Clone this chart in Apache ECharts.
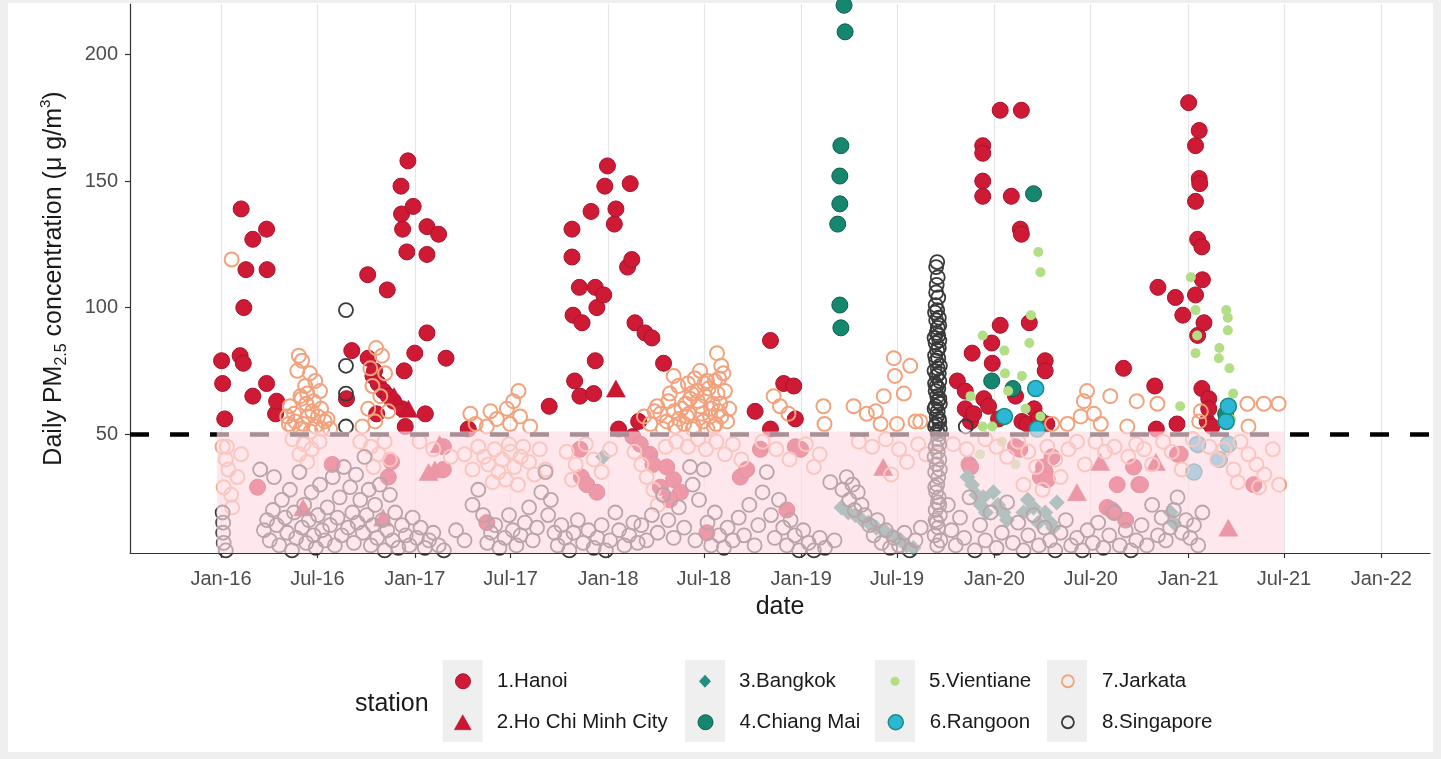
<!DOCTYPE html>
<html>
<head>
<meta charset="utf-8">
<script src="https://cdn.jsdelivr.net/npm/echarts@6/dist/echarts.min.js"></script>
<style>
html, body { margin: 0; padding: 0; background: #efefef; }
#chart { width: 1441px; height: 759px; }
</style>
</head>
<body>
<div id="chart"></div>
<script>
// Daily PM2.5 by monitoring station, [date, µg/m³]
const hanoi = [
  ['2016-01-02',79],['2016-01-04',70],['2016-01-08',56],['2016-02-06',81],['2016-02-08',139],['2016-02-12',78],
  ['2016-02-13',100],['2016-02-17',115],['2016-03-01',127],['2016-03-01',65],['2016-03-27',131],['2016-03-27',70],
  ['2016-03-28',115],['2016-04-13',58],['2016-04-15',63],['2016-03-10',29],['2016-07-29',38],
  ['2016-08-25',64],['2016-09-04',83],['2016-10-04',113],['2016-10-05',80],['2016-10-14',73],['2016-10-17',75],
  ['2016-10-21',58],['2016-10-24',70],['2016-11-03',67],['2016-11-10',107],['2016-11-12',65],['2016-11-22',63],
  ['2016-12-06',148],['2016-12-07',137],['2016-12-08',60],['2016-12-09',131],['2016-12-12',75],['2016-12-14',53],
  ['2016-12-17',122],['2016-12-19',158],['2016-12-29',140],['2017-01-01',82],['2017-01-21',58],['2017-01-24',132],
  ['2017-01-24',121],['2017-01-24',90],['2017-02-15',129],['2017-03-01',80],['2017-04-12',52],
  ['2016-11-12',33],['2016-11-18',39],['2017-02-24',45],['2017-02-24',36],['2017-05-17',15],
  ['2017-09-12',61],['2017-10-25',131],['2017-10-25',120],['2017-10-27',97],['2017-10-30',71],['2017-11-08',108],
  ['2017-11-09',65],['2017-11-13',94],['2017-11-30',138],['2017-12-05',66],['2017-12-08',108],['2017-12-08',79],
  ['2017-12-11',100],['2017-12-24',105],['2017-12-26',148],['2017-12-31',156],['2018-01-13',133],['2018-01-16',139],
  ['2018-01-21',52],['2018-02-07',116],['2018-02-12',149],['2018-02-15',119],['2018-02-21',94],['2018-02-28',55],
  ['2018-03-12',90],['2018-03-25',88],['2018-04-16',78],
  ['2017-11-09',44],['2017-11-12',33],['2017-11-22',30],['2017-12-11',27],['2018-02-17',49],['2018-03-03',46],
  ['2018-03-21',42],['2018-03-27',38],['2018-04-22',37],['2018-05-05',32],['2018-04-10',29],['2018-05-18',27],
  ['2018-04-28',24],['2018-07-07',11],['2018-09-08',33],['2018-09-20',36],['2018-10-16',44],['2018-12-05',20],
  ['2018-12-21',45],['2018-12-31',44],
  ['2018-10-06',59],['2018-11-04',87],['2018-11-04',52],['2018-11-29',70],['2018-12-18',69],['2018-12-21',56],
  ['2019-10-23',71],['2019-11-07',67],['2019-11-07',60],['2019-11-17',55],['2019-11-20',82],['2019-11-23',58],
  ['2019-12-10',164],['2019-12-10',161],['2019-12-10',150],['2019-12-10',144],['2019-12-12',64],['2019-12-21',61],
  ['2019-12-27',86],['2019-12-28',78],['2020-01-09',56],['2020-01-12',178],['2020-01-12',93],['2020-02-02',144],
  ['2020-02-10',65],['2020-02-19',131],['2020-02-21',178],['2020-02-21',129],['2020-02-22',55],['2020-03-03',54],
  ['2020-03-07',94],['2020-03-16',60],['2020-03-25',56],['2020-04-06',79],['2020-04-06',75],['2020-04-09',54],
  ['2019-11-14',38],['2019-11-17',37],['2020-02-10',45],['2020-02-18',44],['2020-03-28',33],['2020-04-03',37],
  ['2020-04-06',35],['2020-04-10',32],['2020-04-19',41],['2020-08-01',21],['2020-08-10',20],['2020-08-14',19],
  ['2020-08-20',30],['2020-09-05',16],['2020-09-20',37],['2020-09-30',30],['2020-10-03',30],['2020-12-12',42],
  ['2020-12-17',42],['2021-05-05',30],
  ['2020-09-01',76],['2020-10-30',69],['2020-11-02',52],['2020-11-05',108],['2020-12-08',104],['2020-12-11',54],
  ['2020-12-22',97],['2021-01-02',181],['2021-01-15',164],['2021-01-15',142],['2021-01-15',105],['2021-01-19',127],
  ['2021-01-19',89],['2021-01-22',170],['2021-01-22',151],['2021-01-23',149],['2021-01-27',124],['2021-01-27',68],
  ['2021-01-28',111],['2021-01-31',94],['2021-02-06',55],['2021-02-09',64],['2021-02-09',60],['2021-02-15',53]
];

const hoChiMinh = [
  ['2016-06-04',21],['2016-11-02',17],['2016-11-23',65],['2016-12-20',60],['2017-01-27',35],['2017-02-08',36],
  ['2017-02-17',46],['2018-01-16',68],['2019-06-05',37],['2020-06-05',27],['2020-07-19',39],['2020-11-01',39],
  ['2021-03-18',13]
];

const bangkok = [
  ['2017-12-23',41],['2019-03-18',21],['2019-03-31',19],['2019-04-13',18],['2019-04-26',16],['2019-05-08',15],
  ['2019-05-23',13],['2019-06-07',12],['2019-06-22',10],['2019-07-08',8],['2019-07-19',6],['2019-08-01',5],
  ['2019-11-11',33],['2019-11-20',30],['2019-11-28',26],['2019-12-06',22],['2019-12-11',25],['2019-12-16',19],
  ['2019-12-30',27],['2020-01-08',22],['2020-01-18',19],['2020-01-25',16],['2020-02-25',19],['2020-03-04',24],
  ['2020-03-15',21],['2020-03-24',15],['2020-04-06',19],['2020-04-16',15],['2020-04-21',13],['2020-04-28',23],
  ['2020-11-29',19],['2020-12-05',15]
];

const chiangMai = [
  ['2019-03-11',133],['2019-03-15',152],['2019-03-15',141],['2019-03-15',101],['2019-03-17',164],['2019-03-17',92],
  ['2019-03-23',219.5],['2019-03-25',209],['2019-12-27',71],['2020-02-05',68],['2020-03-15',145],['2021-03-13',58]
];

const vientiane = [
  ['2019-11-17',65],['2019-12-10',89],['2019-12-10',53],['2019-12-28',53],['2020-01-20',83],['2020-01-21',74],
  ['2020-01-27',67],['2020-02-22',73],['2020-02-29',60],['2020-03-07',86],['2020-03-10',97],['2020-03-24',122],
  ['2020-03-28',114],['2020-03-28',57],['2020-12-17',61],['2021-01-06',112],['2021-01-15',99],['2021-01-15',82],
  ['2021-01-18',89],['2021-02-28',80],['2021-03-01',84],['2021-03-14',99],['2021-03-17',96],['2021-03-17',91],
  ['2021-03-20',76],['2021-03-23',56],['2021-03-27',66],
  ['2019-12-05',42],['2020-01-15',47],['2020-02-10',38],['2021-01-20',44]
];

const rangoon = [
  ['2020-01-20',57],['2020-03-19',68],['2020-03-22',52],['2021-01-12',35],['2021-01-19',46],['2021-03-01',40],
  ['2021-03-14',55],['2021-03-18',61],['2021-03-18',46]
];

const jarkata = [
  ['2016-01-21',119],
  ['2016-05-27',81],['2016-06-02',79],['2016-05-24',75],['2016-06-17',74],['2016-06-08',69],['2016-06-27',71],
  ['2016-05-30',65],['2016-07-06',67],['2016-05-10',61],['2016-06-10',62],['2016-06-21',59],['2016-07-02',57],
  ['2016-07-15',55],['2016-05-20',55],['2016-06-04',54],['2016-06-27',53],['2016-07-10',52],['2016-07-25',52],
  ['2016-05-05',57],['2016-05-30',52],['2016-06-14',57],['2016-05-14',53],
  ['2016-06-01',64],['2016-06-12',66],['2016-06-24',63],['2016-07-08',60],['2016-05-18',58],['2016-06-18',51],
  ['2016-07-20',56],['2016-05-08',54],
  ['2016-10-20',84],['2016-10-31',81],['2016-10-09',76],['2016-11-06',74],['2016-10-13',69],['2016-10-28',65],
  ['2016-10-05',60],['2016-11-12',59],['2016-10-18',55],['2016-09-24',53],
  ['2017-04-16',58],['2017-05-24',59],['2017-06-24',60],['2017-07-16',67],['2017-07-06',63],['2017-06-05',56],
  ['2017-04-26',54],['2017-07-19',57],['2017-08-07',53],['2017-05-17',53],['2017-06-30',54],
  ['2018-05-05',73],['2018-05-14',69],['2018-04-28',66],['2018-04-04',61],['2018-05-06',59],['2018-06-24',75],
  ['2018-07-07',71],['2018-08-07',74],['2018-07-26',82],['2018-06-18',67],['2018-07-27',66],['2018-08-01',62],
  ['2018-06-25',61],['2018-07-13',57],['2018-05-30',57],['2018-04-22',55],['2018-03-22',54],['2018-08-14',55],
  ['2018-06-12',53],['2018-05-08',53],['2018-07-20',53],['2018-03-10',57],['2018-04-10',58],['2018-05-28',62],
  ['2018-06-05',64],['2018-06-28',58],['2018-07-02',70],['2018-07-18',62],['2018-05-20',60],
  ['2018-06-01',70],['2018-06-08',66],['2018-06-14',72],['2018-06-20',63],['2018-07-04',65],['2018-07-10',68],
  ['2018-07-15',60],['2018-07-22',71],['2018-07-29',59],['2018-08-03',57],['2018-08-10',67],['2018-06-30',55],
  ['2018-07-08',52],['2018-05-25',54],['2018-04-15',52],['2018-03-30',59],['2018-04-25',63],['2018-06-10',52],
  ['2018-07-24',54],['2018-08-18',60],['2018-08-03',77],['2018-07-30',72],['2018-05-15',56],['2018-06-03',58],
  ['2018-11-10',65],['2018-11-22',61],['2018-12-08',58],['2019-02-12',61],['2019-02-14',54],
  ['2019-04-10',61],['2019-05-05',58],['2019-05-31',54],['2019-06-06',65],['2019-06-25',80],['2019-07-26',77],
  ['2019-07-14',66],['2019-06-27',73],['2019-05-22',59],['2019-07-01',54],['2019-08-05',55],['2019-08-14',55],
  ['2020-04-19',54],['2020-06-24',67],['2020-06-18',63],['2020-07-07',58],['2020-08-07',65],['2020-09-26',63],
  ['2020-11-04',62],['2020-06-12',57],['2020-07-20',54],['2020-09-08',53],['2020-05-18',54],['2021-04-23',62],
  ['2021-05-24',62],['2021-04-25',53],['2021-01-25',59],['2021-01-22',55],['2021-06-21',62],
  ['2016-01-04',45],['2016-01-12',45],['2016-01-10',40],['2016-02-08',42],['2016-01-15',36],['2016-01-06',29],
  ['2016-01-20',26],['2016-01-22',21],['2016-02-01',33],
  ['2016-05-15',48],['2016-06-05',46],['2016-06-20',44],['2016-07-05',47],['2016-05-28',42],['2016-06-12',39],
  ['2016-09-20',47],['2016-10-10',45],['2016-10-25',42],['2016-11-05',47],['2016-11-15',40],['2016-10-15',37],
  ['2017-01-10',47],['2017-02-05',44],['2017-03-10',41],
  ['2017-05-01',45],['2017-05-12',41],['2017-05-20',38],['2017-06-01',44],['2017-06-08',35],['2017-06-15',40],
  ['2017-06-22',32],['2017-07-01',43],['2017-07-08',37],['2017-07-15',30],['2017-07-25',45],['2017-08-05',39],
  ['2017-08-15',34],['2017-04-20',36],['2017-05-28',31],['2017-06-28',46],['2017-07-20',41],['2017-08-25',44],
  ['2017-09-05',36],['2017-04-05',42],
  ['2017-10-15',43],['2017-11-01',38],['2017-11-20',46],['2017-12-05',40],['2017-12-20',35],['2018-01-05',44],
  ['2017-10-25',32],
  ['2018-02-20',43],['2018-03-05',38],['2018-03-15',33],['2018-03-28',28],['2018-04-05',22],['2018-04-20',45],
  ['2018-05-10',47],['2018-06-01',45],['2018-06-20',48],['2018-07-05',44],['2018-07-25',47],['2018-08-10',42],
  ['2018-08-25',46],['2018-09-10',40],
  ['2018-10-20',47],['2018-11-15',44],['2018-12-10',40],['2019-01-10',46],['2019-02-05',42],['2019-01-25',37],
  ['2019-04-20',47],['2019-05-15',45],['2019-06-10',48],['2019-07-05',44],['2019-07-20',39],['2019-08-10',46],
  ['2019-08-25',42],['2019-06-20',34],['2019-09-15',47],
  ['2019-10-15',46],['2019-11-10',44],['2019-12-15',48],['2020-01-05',45],['2020-01-25',41],['2020-02-15',47],
  ['2020-03-05',43],['2020-03-20',37],['2020-04-10',45],['2020-04-25',40],['2020-05-05',33],['2020-05-20',44],
  ['2020-06-05',47],['2020-06-20',38],['2020-02-25',30],['2020-04-01',28],
  ['2020-07-10',47],['2020-07-28',43],['2020-08-15',45],['2020-09-10',41],['2020-09-25',46],['2020-10-10',44],
  ['2020-10-25',38],['2020-11-15',47],['2020-12-01',43],['2020-12-20',36],['2021-01-10',48],['2021-02-10',45],
  ['2021-02-25',40],['2021-03-10',44],['2021-03-28',36],['2021-04-10',47],['2021-04-25',42],['2021-05-10',38],
  ['2021-05-25',34],['2021-06-10',44],['2021-06-22',30],['2021-05-15',29],['2021-04-05',31]
];

const singapore = [
  ['2016-01-05',15],['2016-01-05',11],['2016-01-06',7],['2016-01-04',19],['2016-01-10',4],
  ['2016-03-15',36],['2016-03-22',12],['2016-03-28',16],['2016-04-02',8],['2016-04-08',20],['2016-04-10',33],
  ['2016-04-15',14],['2016-04-20',6],['2016-04-25',24],['2016-05-01',17],['2016-05-05',11],['2016-05-10',28],
  ['2016-05-14',4],['2016-05-18',19],['2016-05-22',9],['2016-05-28',35],['2016-06-02',13],['2016-06-06',22],
  ['2016-06-10',7],['2016-06-15',16],['2016-06-20',27],['2016-06-24',10],['2016-06-28',5],['2016-07-02',18],
  ['2016-07-06',30],['2016-07-10',12],['2016-07-15',8],['2016-07-20',21],['2016-07-25',14],['2016-07-30',33],
  ['2016-08-03',6],['2016-08-08',17],['2016-08-12',25],['2016-08-16',10],['2016-08-20',37],['2016-08-28',13],
  ['2016-09-01',29],['2016-09-05',19],['2016-09-08',7],['2016-09-12',34],['2016-09-15',15],['2016-09-20',24],
  ['2016-09-25',11],['2016-09-28',41],['2016-10-02',18],['2016-10-06',28],['2016-10-10',6],['2016-10-14',14],
  ['2016-10-18',22],['2016-10-22',9],['2016-10-27',30],['2016-11-01',16],['2016-11-05',4],['2016-11-10',12],
  ['2016-11-15',26],['2016-11-20',8],['2016-11-25',19],['2016-12-01',5],['2016-12-08',14],['2016-12-15',10],
  ['2016-12-22',6],['2016-12-28',17],['2017-01-05',9],['2017-01-12',13],['2017-01-20',5],['2017-01-28',8],
  ['2017-02-05',11],['2017-02-15',6],['2017-02-25',4],
  ['2016-08-24',99],['2016-08-24',77],['2016-08-24',66],['2016-08-24',53],
  ['2017-03-20',12],['2017-04-05',8],['2017-04-20',22],['2017-05-01',28],['2017-05-10',18],['2017-05-18',7],
  ['2017-05-25',11],['2017-06-02',14],['2017-06-10',5],['2017-06-20',9],['2017-06-28',18],['2017-07-05',12],
  ['2017-07-12',6],['2017-07-20',10],['2017-07-28',15],['2017-08-05',21],['2017-08-12',8],['2017-08-20',13],
  ['2017-08-28',27],['2017-09-05',35],['2017-09-10',18],['2017-09-15',24],['2017-09-22',11],['2017-09-28',6],
  ['2017-10-05',14],['2017-10-12',9],
  ['2017-10-20',4],['2017-10-28',11],['2017-11-05',16],['2017-11-15',7],['2017-11-25',12],['2017-12-05',5],
  ['2017-12-12',9],['2017-12-20',14],['2017-12-28',4],['2018-01-05',8],['2018-01-15',19],['2018-01-22',12],
  ['2018-02-01',6],['2018-02-10',10],['2018-02-18',15],['2018-02-26',7],
  ['2018-03-05',14],['2018-03-15',8],['2018-03-25',18],['2018-04-05',11],['2018-04-15',26],['2018-04-25',16],
  ['2018-05-05',9],['2018-05-15',21],['2018-05-25',13],['2018-06-05',37],['2018-06-10',30],['2018-06-15',8],
  ['2018-06-22',24],['2018-07-01',36],['2018-07-08',15],['2018-07-15',6],['2018-07-22',19],['2018-07-30',10],
  ['2018-08-08',5],['2018-08-15',13],['2018-08-25',8],['2018-09-05',17],
  ['2018-09-15',10],['2018-09-25',22],['2018-10-05',6],['2018-10-12',14],['2018-10-20',27],['2018-10-28',35],
  ['2018-11-05',18],['2018-11-12',9],['2018-11-20',24],['2018-11-28',13],['2018-12-05',6],['2018-12-12',16],
  ['2018-12-20',10],['2018-12-28',4],['2019-01-05',12],['2019-01-15',7],['2019-01-25',4],['2019-02-05',9],
  ['2019-02-15',5],['2019-02-25',31],['2019-03-05',8],
  ['2019-03-20',28],['2019-03-28',33],['2019-04-02',24],['2019-04-08',30],['2019-04-12',20],['2019-04-18',27],
  ['2019-04-25',22],['2019-05-01',18],['2019-05-10',14],['2019-05-18',10],['2019-05-25',16],['2019-06-02',7],
  ['2019-06-10',12],['2019-06-18',5],['2019-06-25',9],['2019-07-05',6],['2019-07-15',11],['2019-07-25',4],
  ['2019-08-05',8],['2019-08-15',13],
  ['2019-09-15',118],['2019-09-13',116],['2019-09-16',112],['2019-09-14',109],['2019-09-17',104],['2019-09-12',101],
  ['2019-09-15',99],['2019-09-18',96],['2019-09-13',95],['2019-09-16',92],['2019-09-14',90],['2019-09-19',87],
  ['2019-09-12',86],['2019-09-15',83],['2019-09-17',80],['2019-09-13',79],['2019-09-16',76],['2019-09-18',74],
  ['2019-09-14',73],['2019-09-11',70],['2019-09-17',68],['2019-09-15',65],['2019-09-19',64],['2019-09-12',61],
  ['2019-09-16',59],['2019-09-14',57],['2019-09-18',56],['2019-09-13',54],['2019-09-20',52],['2019-09-15',51],
  ['2019-09-11',98],['2019-09-19',93],['2019-09-10',88],['2019-09-18',84],['2019-09-11',81],['2019-09-20',77],
  ['2019-09-10',75],['2019-09-19',71],['2019-09-12',67],['2019-09-20',62],['2019-09-10',60],['2019-09-19',55],
  ['2019-09-11',53],['2019-09-18',50],['2019-09-13',106],['2019-09-17',89],['2019-09-14',69],['2019-09-16',63],
  ['2019-09-17',48],['2019-09-12',45],['2019-09-16',43],['2019-09-19',40],['2019-09-14',38],['2019-09-11',35],
  ['2019-09-17',33],['2019-09-15',30],['2019-09-13',27],['2019-09-18',25],['2019-09-16',23],['2019-09-12',20],
  ['2019-09-20',18],['2019-09-14',15],['2019-09-17',13],['2019-09-10',10],['2019-09-21',8],['2019-09-15',6],
  ['2019-09-19',46],['2019-09-10',41],['2019-09-20',36],['2019-09-11',29],['2019-09-19',22],['2019-09-12',16],
  ['2019-11-08',53],
  ['2019-10-05',22],['2019-10-12',12],['2019-10-20',6],['2019-10-28',17],['2019-11-05',9],['2019-11-15',25],
  ['2019-11-25',4],['2019-12-05',14],['2019-12-15',8],['2019-12-25',19],['2020-01-05',5],['2020-01-15',11],
  ['2020-01-25',23],['2020-02-05',7],['2020-02-15',15],['2020-02-25',4],['2020-03-05',10],['2020-03-15',18],
  ['2020-03-25',6],['2020-04-05',13],['2020-04-15',8],['2020-04-25',4],['2020-05-05',11],['2020-05-15',16],
  ['2020-05-25',6],['2020-06-05',9],['2020-06-15',4],['2020-06-25',12],['2020-07-05',7],['2020-07-15',15],
  ['2020-07-25',5],['2020-08-05',10],['2020-08-15',19],['2020-08-25',6],['2020-09-05',12],['2020-09-15',4],
  ['2020-09-25',8],['2020-10-05',14],['2020-10-15',6],['2020-10-25',22],['2020-11-05',10],['2020-11-12',17],
  ['2020-11-20',8],['2020-11-28',13],['2020-12-05',20],['2020-12-12',25],['2020-12-20',11],['2020-12-28',16],
  ['2021-01-05',9],['2021-01-12',14],['2021-01-20',6],['2021-01-28',19]
];

// Axis breaks and the shaded band below the 50 µg/m³ guideline
const xTickDates = ['2016-01-01','2016-07-01','2017-01-01','2017-07-01','2018-01-01','2018-07-01','2019-01-01',
  '2019-07-01','2020-01-01','2020-07-01','2021-01-01','2021-07-01','2022-01-01'];
const monthNames = ['Jan','Feb','Mar','Apr','May','Jun','Jul','Aug','Sep','Oct','Nov','Dec'];
const yTicks = [50, 100, 150, 200];
const xRange = ['2015-07-13', '2022-04-03'];
const yRange = [3, 220];
const guideline = 50;
const shadedSpan = ['2015-12-24', '2021-07-01'];

const ts = s => { const p = s.split('-').map(Number); return new Date(p[0], p[1] - 1, p[2]).getTime(); };
const toPoints = arr => arr.map(d => [ts(d[0]), d[1]]);

const FONT = '"Liberation Sans", Arial, Helvetica, sans-serif';

const stations = [
  { name: '1.Hanoi', data: hanoi, symbol: 'circle', size: 16,
    style: { color: '#cf1a36', borderColor: '#a8122c', borderWidth: 1 }, icon: [15, 15] },
  { name: '2.Ho Chi Minh City', data: hoChiMinh, symbol: 'triangle', size: [19, 17],
    style: { color: '#cc1631', borderColor: '#a8122c', borderWidth: 0.5 }, icon: [17, 15] },
  { name: '3.Bangkok', data: bangkok, symbol: 'diamond', size: 16,
    style: { color: '#20907c' }, icon: [12, 13] },
  { name: '4.Chiang Mai', data: chiangMai, symbol: 'circle', size: 16,
    style: { color: '#16876f', borderColor: '#0d5e4e', borderWidth: 1 }, icon: [15, 15] },
  { name: '5.Vientiane', data: vientiane, symbol: 'circle', size: 10,
    style: { color: '#b2df86' }, icon: [9, 9] },
  { name: '6.Rangoon', data: rangoon, symbol: 'circle', size: 16,
    style: { color: '#2cb7d6', borderColor: '#198c7c', borderWidth: 1.5 }, icon: [15, 15] },
  { name: '7.Jarkata', data: jarkata, symbol: 'circle', size: 14,
    style: { color: 'rgba(255,255,255,0)', borderColor: '#f2a27c', borderWidth: 2 }, icon: [12, 12] },
  { name: '8.Singapore', data: singapore, symbol: 'circle', size: 14,
    style: { color: 'rgba(255,255,255,0)', borderColor: '#3a3a3a', borderWidth: 1.8 }, icon: [12, 12] }
];

const scatterSeries = stations.map(s => ({
  type: 'scatter',
  name: s.name,
  data: toPoints(s.data),
  symbol: s.symbol,
  symbolSize: s.size,
  itemStyle: Object.assign({ opacity: 1 }, s.style),
  z: 2,
  silent: true
}));

// Legend: two rows of four columns, one legend block per key
const colCenters = [462.5, 705, 895, 1067];
const rowCenters = [681, 722];
const textOffset = 34;   // icon centre to label start
const legends = stations.map((s, i) => {
  const col = Math.floor(i / 2), row = i % 2;
  const iw = s.icon[0], ih = s.icon[1];
  const fs = 20.5;
  const iconStyle = Object.assign({}, s.style);
  if (s.name === '7.Jarkata' || s.name === '8.Singapore') {
    iconStyle.color = '#efefef';
    iconStyle.borderWidth = 1.8;
  }
  return {
    show: true,
    orient: 'vertical',
    left: colCenters[col] - iw / 2,
    top: rowCenters[row] - Math.max(ih, fs) / 2,
    padding: 0,
    itemWidth: iw,
    itemHeight: ih,
    selectedMode: false,
    textStyle: { fontFamily: FONT, fontSize: fs, color: '#1a1a1a',
      padding: [0, 0, 0, textOffset - iw / 2 - 5] },
    data: [{ name: s.name, icon: s.symbol, itemStyle: iconStyle }]
  };
});

const keyBoxes = colCenters.map(c => ({
  type: 'rect', silent: true, z: -1,
  shape: { x: c - 20, y: 660, width: 40, height: 82 },
  style: { fill: '#efefef' }
}));

const fmtDate = v => { const d = new Date(v); return monthNames[d.getMonth()] + '-' + String(d.getFullYear()).slice(2); };

const option = {
  animation: false,
  backgroundColor: '#efefef',
  grid: { left: 130, right: 11, top: 4, bottom: 206 },
  xAxis: {
    type: 'value',
    min: ts(xRange[0]), max: ts(xRange[1]),
    name: 'date',
    nameLocation: 'middle',
    nameGap: 42,
    nameTextStyle: { fontFamily: FONT, fontSize: 25, color: '#1a1a1a' },
    axisLine: { show: true, lineStyle: { color: '#333333', width: 1.2 } },
    axisTick: { show: true, length: 5, lineStyle: { color: '#333333', width: 1.2 },
      customValues: xTickDates.map(ts) },
    axisLabel: {
      fontFamily: FONT, fontSize: 20, color: '#4d4d4d', margin: 16,
      customValues: xTickDates.map(ts),
      formatter: fmtDate
    },
    splitLine: { show: false }
  },
  yAxis: {
    type: 'value',
    min: yRange[0], max: yRange[1],
    name: 'Daily PM{sub|2.5} concentration (\u03bc g/m{sup|3})',
    nameLocation: 'middle',
    nameGap: 60,
    nameRotate: 90,
    nameTextStyle: {
      fontFamily: FONT, fontSize: 25, color: '#1a1a1a', lineHeight: 32,
      rich: {
        sub: { fontFamily: FONT, fontSize: 16, color: '#1a1a1a', verticalAlign: 'bottom', lineHeight: 32 },
        sup: { fontFamily: FONT, fontSize: 15, color: '#1a1a1a', verticalAlign: 'top', lineHeight: 32 }
      }
    },
    axisLine: { show: true, lineStyle: { color: '#333333', width: 1.2 } },
    axisTick: { show: true, length: 5, lineStyle: { color: '#333333', width: 1.2 }, customValues: yTicks },
    axisLabel: { fontFamily: FONT, fontSize: 20, color: '#4d4d4d', margin: 12, customValues: yTicks },
    splitLine: { show: false }
  },
  legend: legends,
  graphic: [
    { type: 'rect', silent: true, z: -2, shape: { x: 8, y: 3, width: 1425, height: 749 }, style: { fill: '#ffffff' } },
    ...keyBoxes,
    { type: 'text', silent: true, left: 355, top: 692,
      style: { text: 'station', fontFamily: FONT, fontSize: 25, fill: '#1a1a1a' } }
  ],
  series: [
    {
      type: 'scatter', name: 'grid', data: [], silent: true, z: 1,
      markLine: {
        z: 1, silent: true, symbol: 'none', animation: false,
        label: { show: false },
        lineStyle: { color: '#e6e6e6', width: 1.2, type: 'solid' },
        data: xTickDates.map(d => ({ xAxis: ts(d) }))
      }
    },
    ...scatterSeries,
    {
      type: 'scatter', name: 'guideline', data: [], silent: true, z: 3,
      markLine: {
        z: 3, silent: true, symbol: 'none', animation: false,
        label: { show: false },
        lineStyle: { color: '#000000', width: 4.5, type: [19, 21] },
        data: [{ yAxis: guideline }]
      }
    },
    {
      type: 'scatter', name: 'band', data: [], silent: true, z: 4,
      markArea: {
        z: 4, silent: true, animation: false,
        itemStyle: { color: 'rgba(253,218,228,0.66)' },
        data: [[{ xAxis: ts(shadedSpan[0]), yAxis: yRange[0] }, { xAxis: ts(shadedSpan[1]), yAxis: guideline + 1 }]]
      }
    }
  ]
};

const chart = echarts.init(document.getElementById('chart'), null, { renderer: 'canvas' });
chart.setOption(option);
</script>
</body>
</html>
